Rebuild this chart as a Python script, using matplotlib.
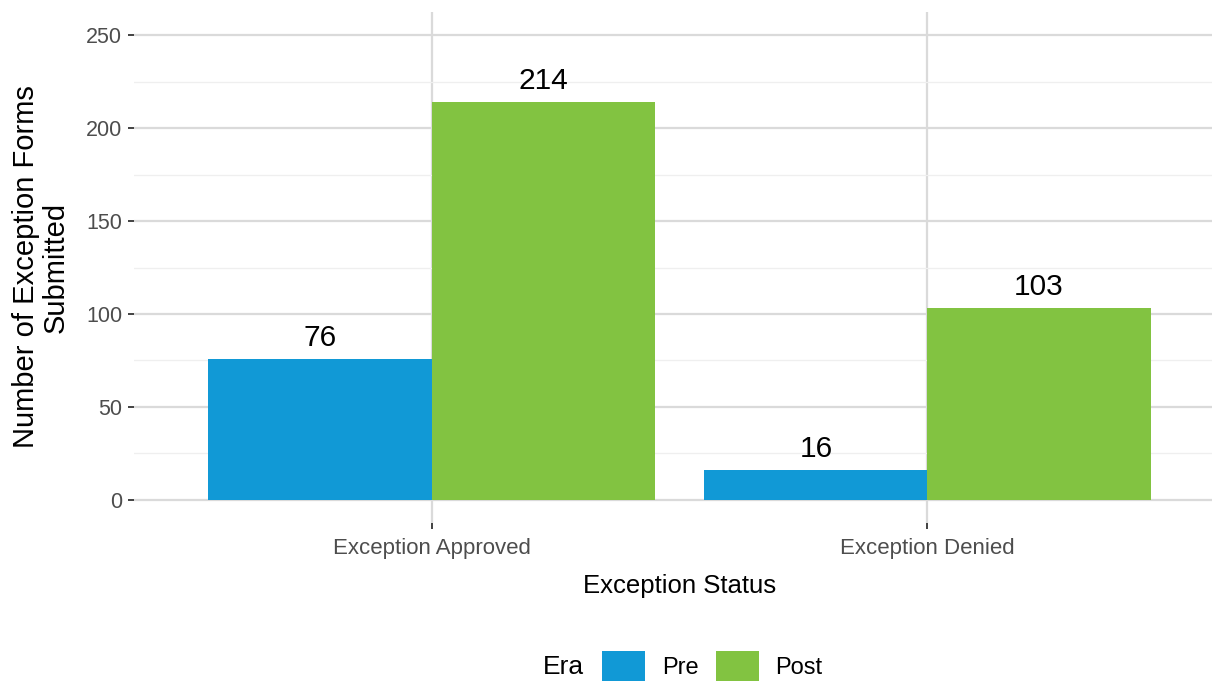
import matplotlib.pyplot as plt
import numpy as np

# counts of exception forms per status and era
status = ['Exception Approved', 'Exception Denied']
era = ['Pre', 'Post']
pre_counts = [76, 16]
post_counts = [214, 103]
colors = ['#1199d6', '#82c341']

plt.rcParams['font.family'] = ['Liberation Sans', 'DejaVu Sans']

fig = plt.figure(figsize=(12.12, 6.84), dpi=100)
ax = fig.add_axes([134 / 1212, 1 - 523 / 684, 1091 / 1212, 511 / 684])

x = np.arange(len(status))
w = 0.45
for off, vals, c, lab in [(-w / 2, pre_counts, colors[0], era[0]),
                          (w / 2, post_counts, colors[1], era[1])]:
    bars = ax.bar(x + off, vals, width=w, color=c, label=lab, zorder=3)
    for b, v in zip(bars, vals):
        ax.annotate(str(v), (b.get_x() + b.get_width() / 2, v),
                    xytext=(0, 5), textcoords='offset points',
                    ha='center', va='bottom', fontsize=21.5, color='black', zorder=4)

ax.set_xlim(-0.6, 1.6)
ax.set_ylim(-12.5, 262.5)
ax.set_yticks([0, 50, 100, 150, 200, 250])
ax.set_yticks([25, 75, 125, 175, 225], minor=True)
ax.set_xticks(x)
ax.set_xticklabels(status)

# minimal theme: no frame, grey gridlines
for s in ax.spines.values():
    s.set_visible(False)
ax.grid(True, which='major', color='#dadada', linewidth=1.6, zorder=0)
ax.grid(True, which='minor', axis='y', color='#efefef', linewidth=0.9, zorder=0)
ax.tick_params(which='major', length=4.5, width=1.3, color='#333333',
               labelcolor='#4d4d4d', labelsize=15.5, pad=4)
ax.tick_params(axis='x', which='major', pad=6, labelsize=16)
ax.tick_params(which='minor', length=0)

ax.set_xlabel('Exception Status', fontsize=18.5, labelpad=11)
fig.text(41 / 1212, 1 - 267 / 684, 'Number of Exception Forms\nSubmitted',
         rotation=90, ha='center', va='center', fontsize=21, linespacing=1.1,
         multialignment='center')

handles, labels = ax.get_legend_handles_labels()
fig.legend(handles, labels, loc='center left', bbox_to_anchor=(602 / 1212, 1 - 666 / 684),
           ncol=2, frameon=False, fontsize=17, handlelength=1.82, handleheight=1.6,
           handletextpad=0.72, columnspacing=0.72, borderaxespad=0, borderpad=0)
fig.text(584 / 1212, 1 - 667 / 684, 'Era', ha='right', va='center', fontsize=19)

fig.savefig('out.png', dpi=100)
